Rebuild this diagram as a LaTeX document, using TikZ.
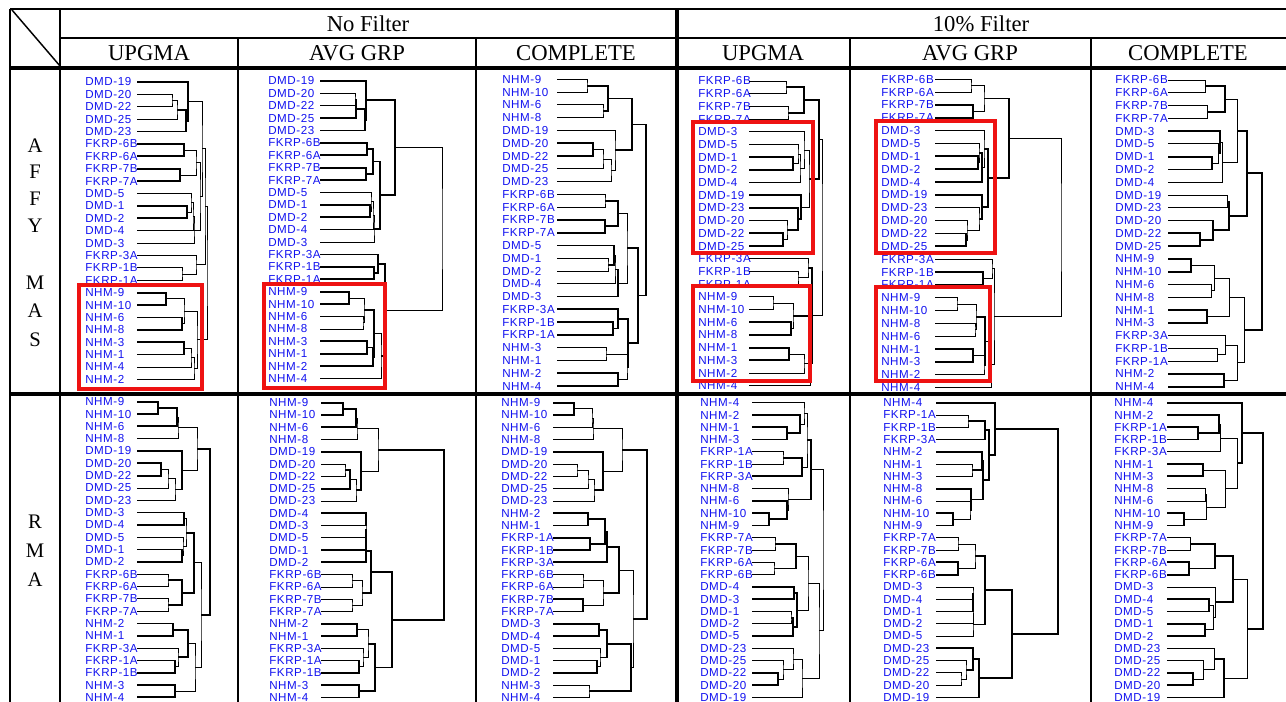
\documentclass[tikz,border=0pt]{standalone}
\usepackage{fontspec}
\setmainfont{Liberation Serif}
\newfontfamily\lblfont[LetterSpace=5]{Liberation Sans}
\usepackage{tikz}
\usetikzlibrary{calc}
\definecolor{cLbl}{RGB}{ 18, 18,240}
\definecolor{cBox}{RGB}{238, 18, 18}
\tikzset{
  lbl/.style ={font=\lblfont\fontsize{8.7}{9}\selectfont,text=cLbl,anchor=west,inner sep=0pt},
  dg/.style  ={draw=black,line width=0.6pt},
  tk/.style  ={line width=1.35pt},
  hdr/.style ={font=\fontsize{17}{20}\selectfont,inner sep=0pt},
  rowl/.style={font=\fontsize{15.5}{18}\selectfont,inner sep=0pt},
  rl/.style  ={draw=black,line width=1.1pt},
  rlk/.style ={draw=black,line width=2.3pt},
  hit/.style ={draw=cBox,line width=2.4pt},
}
% leaves: label x, line x, first y, row step, labels
\newcommand\leaves[5]{%
  \foreach \t [count=\i] in {#5}{
    \node[lbl] (n\i) at (#1,{#3+(\i-1)*#4}) {\t};
    \coordinate (l\i) at (#2,{#3+(\i-1)*#4});}}
% one merge: name, child, child, x of the join
\newcommand\mg[5][]{%
  \coordinate (t) at ($(#3)!.5!(#4)$);
  \coordinate (#2) at (t -| #5,0);
  \draw[dg,#1] (#3) -| (#2) |- (#4);}

\begin{document}
\begin{tikzpicture}[x=0.75pt,y=-0.75pt]
\fill[white] (0,0) rectangle (1286,702);
\useasboundingbox (0,0) rectangle (1286,702);

%% ================= AFFY MAS, no filter ==================================
\begin{scope}[shift={(60,66)},name prefix=a1-]
\clip (0,0) rectangle (178,327);
\leaves{25}{77}{16}{12.39}{DMD-19,DMD-20,DMD-22,DMD-25,DMD-23,FKRP-6B,FKRP-6A,FKRP-7B,FKRP-7A,DMD-5,DMD-1,DMD-2,DMD-4,DMD-3,FKRP-3A,FKRP-1B,FKRP-1A,NHM-9,NHM-10,NHM-6,NHM-8,NHM-3,NHM-1,NHM-4,NHM-2}
\mg{a}{l2}{l3}{112} \mg{b}{a}{l4}{117} \mg[tk]{c}{b}{l5}{126} \mg[tk]{d}{l1}{c}{128}
\mg[tk]{e}{l6}{l7}{124} \mg[tk]{f}{l8}{l9}{120} \mg{g}{e}{f}{136}
\mg[tk]{h}{l11}{l12}{127} \mg{i}{l10}{h}{131} \mg{j}{i}{l13}{133} \mg{k}{j}{l14}{134}
\mg{m}{g}{k}{140} \mg{n}{d}{m}{142}
\mg{o}{l16}{l17}{122} \mg{p}{l15}{o}{136} \mg{q}{n}{p}{145}
\mg[tk]{r}{l18}{l19}{106} \mg[tk]{s}{l20}{l21}{122} \mg{u}{r}{s}{124}
\mg[tk]{v}{l22}{l23}{124} \mg{w}{v}{l24}{131} \mg{x}{w}{l25}{134} \mg{y}{u}{x}{137}
\mg{z}{q}{y}{147}
\end{scope}

\begin{scope}[shift={(238,66)},name prefix=a2-]
\clip (0,0) rectangle (238,327);
\leaves{30}{82}{15}{12.40}{DMD-19,DMD-20,DMD-22,DMD-25,DMD-23,FKRP-6B,FKRP-6A,FKRP-7B,FKRP-7A,DMD-5,DMD-1,DMD-2,DMD-4,DMD-3,FKRP-3A,FKRP-1B,FKRP-1A,NHM-9,NHM-10,NHM-6,NHM-8,NHM-3,NHM-1,NHM-2,NHM-4}
\mg{a}{l2}{l3}{117} \mg[tk]{b}{a}{l4}{118} \mg[tk]{c}{b}{l5}{127} \mg[tk]{d}{l1}{c}{128}
\mg[tk]{e}{l6}{l7}{129} \mg[tk]{f}{l8}{l9}{128} \mg[tk]{g}{e}{f}{135}
\mg[tk]{h}{l11}{l12}{132} \mg{i}{l10}{h}{133} \mg{j}{i}{l13}{135} \mg{k}{j}{l14}{136}
\mg[tk]{m}{g}{k}{142} \mg[tk]{n}{d}{m}{157}
\mg[tk]{o}{l16}{l17}{136} \mg[tk]{p}{l15}{o}{140}
\mg[tk]{r}{l18}{l19}{111} \mg{s}{l20}{l21}{125} \mg{u}{r}{s}{126}
\mg[tk]{v}{l22}{l23}{129} \mg[tk]{w}{v}{l24}{135} \mg[tk]{x}{u}{w}{136} \mg{y}{x}{l25}{143}
\mg[tk]{q}{p}{y}{147}
\mg{z}{n}{q}{204}
\end{scope}

\begin{scope}[shift={(476,66)},name prefix=a3-]
\clip (0,0) rectangle (201,327);
\leaves{26}{81}{13.3}{12.78}{NHM-9,NHM-10,NHM-6,NHM-8,DMD-19,DMD-20,DMD-22,DMD-25,DMD-23,FKRP-6B,FKRP-6A,FKRP-7B,FKRP-7A,DMD-5,DMD-1,DMD-2,DMD-4,DMD-3,FKRP-3A,FKRP-1B,FKRP-1A,NHM-3,NHM-1,NHM-2,NHM-4}
\mg{a}{l1}{l2}{111} \mg{b}{l3}{l4}{127} \mg[tk]{c}{a}{b}{132}
\mg[tk]{d}{l6}{l7}{117} \mg{e}{d}{l8}{127} \mg{f}{e}{l9}{135} \mg{g}{l5}{f}{139} \mg[tk]{h}{c}{g}{156}
\mg{i}{l10}{l11}{129} \mg[tk]{j}{l12}{l13}{129} \mg[tk]{k}{i}{j}{142}
\mg{m}{l15}{l16}{132} \mg[tk]{n}{l14}{m}{138} \mg{o}{n}{l17}{139} \mg[tk]{p}{o}{l18}{142}
\mg{q}{k}{p}{151}
\mg[tk]{r}{l20}{l21}{137} \mg[tk]{s}{l19}{r}{142}
\mg{u}{l22}{l23}{130} \mg[tk]{v}{l24}{l25}{142} \mg{w}{u}{v}{151} \mg[tk]{x}{s}{w}{152}
\mg[tk]{y}{q}{x}{162}
\mg[tk]{z}{h}{y}{170}
\end{scope}

%% ================= AFFY MAS, 10% filter =================================
\begin{scope}[shift={(677,66)},name prefix=b1-]
\clip (0,0) rectangle (173,327);
\leaves{21}{72}{15}{12.7}{FKRP-6B,FKRP-6A,FKRP-7B,FKRP-7A,DMD-3,DMD-5,DMD-1,DMD-2,DMD-4,DMD-19,DMD-23,DMD-20,DMD-22,DMD-25,FKRP-3A,FKRP-1B,FKRP-1A,NHM-9,NHM-10,NHM-6,NHM-8,NHM-1,NHM-3,NHM-2,NHM-4}
\mg{a}{l1}{l2}{109} \mg{b}{l3}{l4}{111} \mg[tk]{c}{a}{b}{127}
\mg[tk]{d}{l7}{l8}{116} \mg{e}{l6}{d}{121} \mg{f}{e}{l9}{123} \mg{g}{l5}{f}{127}
\mg[tk]{h}{l13}{l14}{106} \mg{i}{l12}{h}{110} \mg[tk]{j}{l11}{i}{121} \mg[tk]{k}{l10}{j}{124}
\mg{m}{g}{k}{132} \mg[tk]{n}{c}{m}{142}
\mg{o}{l16}{l17}{121} \mg{p}{l15}{o}{131}
\mg{q}{l18}{l19}{96} \mg[tk]{r}{l20}{l21}{114} \mg{s}{q}{r}{116}
\mg[tk]{u}{l22}{l23}{112} \mg{v}{u}{l24}{127} \mg[tk]{w}{s}{v}{132} \mg{x}{w}{l25}{133}
\mg[tk]{y}{p}{x}{135}
\mg{z}{n}{y}{145}
\end{scope}

\begin{scope}[shift={(850,66)},name prefix=b2-]
\clip (0,0) rectangle (241,327);
\leaves{31}{85}{13.3}{12.85}{FKRP-6B,FKRP-6A,FKRP-7B,FKRP-7A,DMD-3,DMD-5,DMD-1,DMD-2,DMD-4,DMD-19,DMD-23,DMD-20,DMD-22,DMD-25,FKRP-3A,FKRP-1B,FKRP-1A,NHM-9,NHM-10,NHM-8,NHM-6,NHM-1,NHM-3,NHM-2,NHM-4}
\mg{a}{l1}{l2}{121} \mg[tk]{b}{l3}{l4}{123} \mg{c}{a}{b}{134}
\mg[tk]{d}{l7}{l8}{128} \mg{e}{l6}{d}{129} \mg[tk]{f}{e}{l9}{132} \mg{g}{l5}{f}{134}
\mg[tk]{h}{l13}{l14}{116} \mg{i}{l12}{h}{117} \mg{j}{l11}{i}{129} \mg[tk]{k}{l10}{j}{132}
\mg[tk]{m}{g}{k}{138} \mg[tk]{n}{c}{m}{159}
\mg[tk]{o}{l16}{l17}{133} \mg{p}{l15}{o}{142}
\mg{q}{l18}{l19}{107} \mg{r}{l20}{l21}{125} \mg{s}{q}{r}{126}
\mg[tk]{u}{l22}{l23}{123} \mg{v}{u}{l24}{134} \mg[tk]{w}{s}{v}{135} \mg{x}{w}{l25}{141}
\mg{y}{p}{x}{144}
\mg{z}{n}{y}{211}
\end{scope}

\begin{scope}[shift={(1091,66)},name prefix=b3-]
\clip (0,0) rectangle (195,327);
\leaves{24}{77}{14}{12.78}{FKRP-6B,FKRP-6A,FKRP-7B,FKRP-7A,DMD-3,DMD-5,DMD-1,DMD-2,DMD-4,DMD-19,DMD-23,DMD-20,DMD-22,DMD-25,NHM-9,NHM-10,NHM-6,NHM-8,NHM-1,NHM-3,FKRP-3A,FKRP-1B,FKRP-1A,NHM-2,NHM-4}
\mg{a}{l1}{l2}{114} \mg{b}{l3}{l4}{116} \mg[tk]{c}{a}{b}{134}
\mg[tk]{d}{l7}{l8}{121} \mg{e}{l6}{d}{127} \mg[tk]{f}{l5}{e}{129} \mg{g}{f}{l9}{131}
\mg{h}{c}{g}{146}
\mg[tk]{i}{l13}{l14}{109} \mg[tk]{j}{l12}{i}{122} \mg{k}{l10}{l11}{136} \mg[tk]{m}{k}{j}{138}
\mg[tk]{n}{h}{m}{156}
\mg[tk]{o}{l15}{l16}{100} \mg{p}{l17}{l18}{120} \mg{q}{o}{p}{123} \mg[tk]{r}{l19}{l20}{116} \mg{s}{q}{r}{138}
\mg{u}{l22}{l23}{126} \mg{v}{l21}{u}{134} \mg[tk]{w}{l24}{l25}{133} \mg{x}{v}{w}{146}
\mg{y}{s}{x}{153}
\mg[tk]{z}{n}{y}{171}
\end{scope}

%% ================= RMA, no filter =======================================
\begin{scope}[shift={(60,390)},name prefix=c1-]
\leaves{25}{77}{11.7}{12.32}{NHM-9,NHM-10,NHM-6,NHM-8,DMD-19,DMD-20,DMD-22,DMD-25,DMD-23,DMD-3,DMD-4,DMD-5,DMD-1,DMD-2,FKRP-6B,FKRP-6A,FKRP-7B,FKRP-7A,NHM-2,NHM-1,FKRP-3A,FKRP-1A,FKRP-1B,NHM-3,NHM-4}
\mg[tk]{a}{l1}{l2}{98} \mg[tk]{b}{a}{l3}{117} \mg{c}{b}{l4}{118}
\mg[tk]{d}{l6}{l7}{101} \mg{e}{d}{l8}{108} \mg{f}{e}{l9}{115} \mg[tk]{g}{l5}{f}{122}
\mg{h}{c}{g}{137}
\mg[tk]{i}{l10}{l11}{124} \mg[tk]{j}{l13}{l14}{122} \mg{k}{l12}{j}{123} \mg{m}{i}{k}{126}
\mg{n}{l15}{l16}{108} \mg{o}{l17}{l18}{108} \mg[tk]{p}{n}{o}{122}
\mg[tk]{q}{m}{p}{134}
\mg[tk]{r}{l19}{l20}{113} \mg[tk]{s}{l22}{l23}{115} \mg{u}{l21}{s}{118} \mg[tk]{v}{r}{u}{128}
\mg[tk]{w}{l24}{l25}{115} \mg{x}{v}{w}{135}
\mg{y}{q}{x}{141}
\mg[tk]{z}{h}{y}{150}
\end{scope}

\begin{scope}[shift={(238,390)},name prefix=c2-]
\leaves{31}{83}{12.7}{12.28}{NHM-9,NHM-10,NHM-6,NHM-8,DMD-19,DMD-20,DMD-22,DMD-25,DMD-23,DMD-4,DMD-3,DMD-5,DMD-1,DMD-2,FKRP-6B,FKRP-6A,FKRP-7B,FKRP-7A,NHM-2,NHM-1,FKRP-3A,FKRP-1A,FKRP-1B,NHM-3,NHM-4}
\mg[tk]{a}{l1}{l2}{105} \mg[tk]{b}{a}{l3}{118} \mg{c}{b}{l4}{119}
\mg{d}{l6}{l7}{107} \mg[tk]{e}{d}{l8}{112} \mg{f}{e}{l9}{118} \mg[tk]{g}{l5}{f}{123}
\mg{h}{c}{g}{140}
\mg[tk]{i}{l10}{l11}{128} \mg{j}{i}{l12}{128} \mg[tk]{k}{j}{l13}{128} \mg[tk]{m}{k}{l14}{128}
\mg{n}{l15}{l16}{114} \mg{o}{l17}{l18}{114} \mg{p}{n}{o}{124}
\mg[tk]{q}{m}{p}{133}
\mg[tk]{r}{l19}{l20}{119} \mg[tk]{s}{l22}{l23}{121} \mg{u}{l21}{s}{125} \mg{v}{r}{u}{130}
\mg[tk]{w}{l24}{l25}{121} \mg[tk]{x}{v}{w}{137}
\mg[tk]{y}{q}{x}{154}
\mg[tk]{z}{h}{y}{206}
\end{scope}

\begin{scope}[shift={(476,390)},name prefix=c3-]
\leaves{25}{77}{12.7}{12.28}{NHM-9,NHM-10,NHM-6,NHM-8,DMD-19,DMD-20,DMD-22,DMD-25,DMD-23,NHM-2,NHM-1,FKRP-1A,FKRP-1B,FKRP-3A,FKRP-6B,FKRP-6A,FKRP-7B,FKRP-7A,DMD-3,DMD-4,DMD-5,DMD-1,DMD-2,NHM-3,NHM-4}
\mg[tk]{a}{l1}{l2}{98} \mg{b}{a}{l3}{116} \mg{c}{b}{l4}{117}
\mg{d}{l6}{l7}{101} \mg{e}{d}{l8}{112} \mg{f}{e}{l9}{118} \mg[tk]{g}{l5}{f}{127}
\mg{h}{c}{g}{146}
\mg[tk]{i}{l10}{l11}{112} \mg[tk]{j}{l12}{l13}{114} \mg[tk]{k}{i}{j}{129} \mg[tk]{m}{k}{l14}{131}
\mg{n}{l15}{l16}{107} \mg[tk]{o}{l17}{l18}{107} \mg{p}{n}{o}{127}
\mg[tk]{q}{m}{p}{143}
\mg[tk]{r}{l19}{l20}{123} \mg[tk]{s}{l22}{l23}{121} \mg{u}{l21}{s}{124} \mg[tk]{v}{r}{u}{131}
\mg{w}{l24}{l25}{113} \mg[tk]{x}{v}{w}{155}
\mg{y}{q}{x}{157}
\mg[tk]{z}{h}{y}{171}
\end{scope}

%% ================= RMA, 10% filter ======================================
\begin{scope}[shift={(677,390)},name prefix=d1-]
\leaves{23}{75}{12.7}{12.28}{NHM-4,NHM-2,NHM-1,NHM-3,FKRP-1A,FKRP-1B,FKRP-3A,NHM-8,NHM-6,NHM-10,NHM-9,FKRP-7A,FKRP-7B,FKRP-6A,FKRP-6B,DMD-4,DMD-3,DMD-1,DMD-2,DMD-5,DMD-23,DMD-25,DMD-22,DMD-20,DMD-19}
\mg[tk]{a}{l3}{l4}{110} \mg[tk]{b}{l2}{a}{123} \mg{c}{l1}{b}{127}
\mg{d}{l5}{l6}{106} \mg[tk]{e}{d}{l7}{125}
\mg{f}{c}{e}{130}
\mg[tk]{g}{l10}{l11}{92} \mg[tk]{h}{l9}{g}{110} \mg{i}{l8}{h}{111}
\mg[tk]{j}{f}{i}{134}
\mg{k}{l12}{l13}{98} \mg{m}{l14}{l15}{97} \mg[tk]{n}{k}{m}{119}
\mg[tk]{o}{l16}{l17}{117} \mg{p}{l18}{l19}{114} \mg[tk]{q}{p}{l20}{116} \mg[tk]{r}{o}{q}{120}
\mg{s}{n}{r}{131}
\mg[tk]{u}{l23}{l24}{101} \mg{v}{l22}{u}{106} \mg{w}{l21}{v}{116} \mg{x}{w}{l25}{125}
\mg{y}{s}{x}{142}
\mg{z}{j}{y}{146}
\end{scope}

\begin{scope}[shift={(850,390)},name prefix=d2-]
\leaves{33}{86}{12.7}{12.28}{NHM-4,FKRP-1A,FKRP-1B,FKRP-3A,NHM-2,NHM-1,NHM-3,NHM-8,NHM-6,NHM-10,NHM-9,FKRP-7A,FKRP-7B,FKRP-6A,FKRP-6B,DMD-3,DMD-4,DMD-1,DMD-2,DMD-5,DMD-23,DMD-25,DMD-22,DMD-20,DMD-19}
\mg{a}{l2}{l3}{118} \mg[tk]{b}{a}{l4}{135}
\mg{c}{l6}{l7}{122} \mg[tk]{d}{l5}{c}{132}
\mg[tk]{e}{l10}{l11}{103} \mg{f}{l9}{e}{120} \mg[tk]{g}{l8}{f}{121}
\mg[tk]{h}{d}{g}{133}
\mg[tk]{i}{b}{h}{139}
\mg[tk]{j}{l1}{i}{145}
\mg{k}{l12}{l13}{108} \mg[tk]{m}{l14}{l15}{108} \mg{n}{k}{m}{125}
\mg{o}{l16}{l17}{123} \mg[tk]{p}{o}{l18}{123} \mg{q}{p}{l19}{123} \mg{r}{q}{l20}{123}
\mg[tk]{s}{n}{r}{135}
\mg{u}{l23}{l24}{111} \mg{v}{l22}{u}{116} \mg[tk]{w}{l21}{v}{123} \mg[tk]{x}{w}{l25}{129}
\mg[tk]{y}{s}{x}{162}
\mg[tk]{z}{j}{y}{208}
\end{scope}

\begin{scope}[shift={(1091,390)},name prefix=d3-]
\leaves{23}{76}{12.7}{12.28}{NHM-4,NHM-2,FKRP-1A,FKRP-1B,FKRP-3A,NHM-1,NHM-3,NHM-8,NHM-6,NHM-10,NHM-9,FKRP-7A,FKRP-7B,FKRP-6A,FKRP-6B,DMD-3,DMD-4,DMD-5,DMD-1,DMD-2,DMD-23,DMD-25,DMD-22,DMD-20,DMD-19}
\mg[tk]{a}{l3}{l4}{107} \mg[tk]{b}{l2}{a}{128} \mg{c}{b}{l5}{129}
\mg[tk]{d}{l6}{l7}{112} \mg[tk]{e}{l10}{l11}{93} \mg{f}{l8}{l9}{114} \mg{g}{f}{e}{115} \mg{h}{d}{g}{134}
\mg{i}{c}{h}{146}
\mg[tk]{j}{l1}{i}{151}
\mg{k}{l12}{l13}{99} \mg[tk]{m}{l14}{l15}{98} \mg[tk]{n}{k}{m}{124}
\mg[tk]{o}{l17}{l18}{118} \mg[tk]{p}{l19}{l20}{114} \mg{q}{o}{p}{122} \mg{r}{l16}{q}{124}
\mg[tk]{s}{n}{r}{142}
\mg[tk]{u}{l23}{l24}{102} \mg{v}{l22}{u}{112} \mg{w}{l21}{v}{123} \mg[tk]{x}{w}{l25}{133}
\mg{y}{s}{x}{156}
\mg[tk]{z}{j}{y}{172}
\end{scope}

%% ================= table rules and headings =============================
\draw[rl]  (10,9) -- (1286,9);
\draw[rl]  (60,38) -- (1286,38);
\draw[rlk] (10,68) -- (1286,68);
\draw[rlk] (10,394) -- (1286,394);
\draw[rl]  (10,9) -- (10,702);
\draw[rl]  (60,9) -- (60,702);
\foreach \x in {238,476,850,1091} \draw[rl] (\x,38) -- (\x,702);
\draw[rlk] (677,9) -- (677,702);
\draw[rl]  (12,10) -- (60,66);

\node[hdr] (nf) at (368,24) {No Filter};
\node[hdr] (tf) at (981,24) {10\% Filter};
\foreach \x/\t [count=\i] in {149/UPGMA,357/AVG GRP,576/COMPLETE,763/UPGMA,970/AVG GRP,1188/COMPLETE}
  \node[hdr] (h\i) at (\x,53) {\t};

\foreach \y/\t [count=\i] in {146/A,172/F,199/F,226/Y,283/M,311/A,340/S}
  \node[rowl] (ra\i) at (35,\y) {\t};
\foreach \y/\t [count=\i] in {522/R,551/M,580/A}
  \node[rowl] (rr\i) at (35,\y) {\t};

%% ================= red boxes ============================================
\draw[hit] (79,285) rectangle (202,389);
\draw[hit] (264,284) rectangle (385,388);
\draw[hit] (693,122) rectangle (813,253);
\draw[hit] (693,286) rectangle (810,381);
\draw[hit] (876,121) rectangle (995,253);
\draw[hit] (876,287) rectangle (990,381);

\end{tikzpicture}
\end{document}
